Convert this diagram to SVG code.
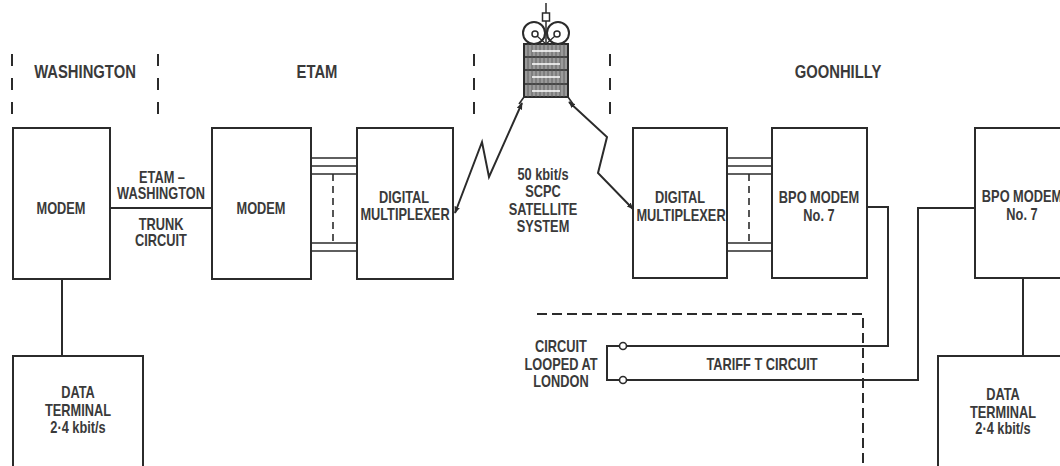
<svg xmlns="http://www.w3.org/2000/svg" width="1060" height="466" viewBox="0 0 1060 466">
  <style>
    .box { fill: #ffffff; stroke: #2b2b2b; stroke-width: 2; }
    .wire { fill: none; stroke: #2b2b2b; stroke-width: 2; }
    .thin { fill: none; stroke: #2b2b2b; stroke-width: 1.6; }
    .dash { fill: none; stroke: #2b2b2b; stroke-width: 2; stroke-dasharray: 10 5; }
    .divider { fill: none; stroke: #2b2b2b; stroke-width: 2; stroke-dasharray: 12 12; }
    text { font-family: "Liberation Sans", Arial, sans-serif; font-weight: bold; fill: #3a3a3a; text-anchor: middle; }
    .lbl { font-size: 16px; }
    .head { font-size: 18.5px; }
  </style>
  <defs>
    <marker id="arrow" viewBox="0 0 10 10" refX="9" refY="5" markerWidth="7" markerHeight="7" orient="auto-start-reverse" markerUnits="userSpaceOnUse">
      <path d="M0,1 L10,5 L0,9 Z" fill="#2b2b2b"/>
    </marker>
  </defs>

  <rect width="1060" height="466" fill="#ffffff"/>

  <!-- site boundaries and site names (condensed lettering: each text squeezed about its centre) -->
  <g id="sites">
    <path class="divider" d="M12,54 V118 M158,54 V118 M474,54 V118 M610,54 V118"/>
    <text class="head" transform="translate(85,0) scale(0.8,1)" y="78">WASHINGTON</text>
    <text class="head" transform="translate(317,0) scale(0.8,1)" y="78">ETAM</text>
    <text class="head" transform="translate(838,0) scale(0.8,1)" y="78">GOONHILLY</text>
  </g>

  <!-- satellite -->
  <g id="satellite" stroke="#2b2b2b" fill="none">
    <path d="M546,3 V13" stroke-width="1.5"/>
    <rect x="542.5" y="13" width="7" height="8" fill="#ffffff" stroke-width="1.5"/>
    <path d="M546,21 V44" stroke-width="1.5"/>
    <circle cx="534" cy="33" r="11" stroke-width="2"/>
    <circle cx="558" cy="33" r="11" stroke-width="2"/>
    <circle cx="535" cy="34" r="3" stroke-width="1.5"/>
    <circle cx="557" cy="34" r="3" stroke-width="1.5"/>
    <path d="M537,36 L546,44 M555,36 L546,44" stroke-width="1.2"/>
    <rect x="524" y="44" width="44" height="53" fill="#9a9a9a" stroke-width="2"/>
    <path d="M524,57 H568 M524,70 H568 M524,84 H568" stroke-width="1.6"/>
    <path d="M528,44 V97 M532,44 V97 M536,44 V97 M540,44 V97 M544,44 V97 M548,44 V97 M552,44 V97 M556,44 V97 M560,44 V97 M564,44 V97" stroke="#555555" stroke-width="0.8"/>
    <path d="M532,51 H560 M532,64 H560 M532,77 H560 M532,91 H560" stroke="#ffffff" stroke-width="1.5"/>
    <path d="M524,97 L519,104 M568,97 L573,104" stroke-width="1.6"/>
  </g>

  <!-- equipment -->
  <g id="wash-modem">
    <rect class="box" x="13" y="128" width="97" height="151"/>
    <text class="lbl" transform="translate(61,0) scale(0.8,1)" y="214">MODEM</text>
  </g>
  <g id="wash-terminal">
    <rect class="box" x="13" y="356" width="130" height="120"/>
    <text class="lbl" transform="translate(78,0) scale(0.8,1)" y="398">DATA</text>
    <text class="lbl" transform="translate(78,0) scale(0.8,1)" y="416">TERMINAL</text>
    <text class="lbl" transform="translate(78,0) scale(0.8,1)" y="433">2·4 kbit/s</text>
  </g>
  <g id="etam-modem">
    <rect class="box" x="212" y="128" width="99" height="151"/>
    <text class="lbl" transform="translate(261,0) scale(0.8,1)" y="214">MODEM</text>
  </g>
  <g id="etam-mux">
    <rect class="box" x="357" y="128" width="96" height="151"/>
    <text class="lbl" transform="translate(404,0) scale(0.8,1)" y="203">DIGITAL</text>
    <text class="lbl" transform="translate(405,0) scale(0.8,1)" y="220">MULTIPLEXER</text>
  </g>
  <g id="goon-mux">
    <rect class="box" x="633" y="128" width="94" height="150"/>
    <text class="lbl" transform="translate(680,0) scale(0.8,1)" y="203">DIGITAL</text>
    <text class="lbl" transform="translate(681,0) scale(0.8,1)" y="221">MULTIPLEXER</text>
  </g>
  <g id="goon-modem">
    <rect class="box" x="772" y="128" width="95" height="150"/>
    <text class="lbl" transform="translate(819,0) scale(0.8,1)" y="203">BPO MODEM</text>
    <text class="lbl" transform="translate(819,0) scale(0.8,1)" y="221">No. 7</text>
  </g>
  <g id="remote-modem">
    <rect class="box" x="975" y="128" width="100" height="150"/>
    <text class="lbl" transform="translate(1022,0) scale(0.8,1)" y="202">BPO MODEM</text>
    <text class="lbl" transform="translate(1022,0) scale(0.8,1)" y="220">No. 7</text>
  </g>
  <g id="remote-terminal">
    <rect class="box" x="938" y="356" width="130" height="120"/>
    <text class="lbl" transform="translate(1003,0) scale(0.8,1)" y="400">DATA</text>
    <text class="lbl" transform="translate(1003,0) scale(0.8,1)" y="418">TERMINAL</text>
    <text class="lbl" transform="translate(1003,0) scale(0.8,1)" y="434">2·4 kbit/s</text>
  </g>

  <!-- connectors -->
  <g id="connectors">
    <!-- trunk circuit -->
    <path class="wire" d="M110,208 H212"/>
    <text class="lbl" transform="translate(162,0) scale(0.8,1)" y="183">ETAM –</text>
    <text class="lbl" transform="translate(161,0) scale(0.8,1)" y="199">WASHINGTON</text>
    <text class="lbl" transform="translate(161,0) scale(0.8,1)" y="230">TRUNK</text>
    <text class="lbl" transform="translate(161,0) scale(0.8,1)" y="246">CIRCUIT</text>
    <!-- modem to terminal drops -->
    <path class="wire" d="M62,279 V356"/>
    <path class="wire" d="M1023,278 V356"/>
    <!-- multi-channel links -->
    <path class="thin" d="M311,158 H357 M311,166 H357 M311,174 H357 M311,243 H357 M311,251 H357"/>
    <path class="thin" d="M333,174 V243" stroke-dasharray="7 5"/>
    <path class="thin" d="M727,158 H772 M727,166 H772 M727,174 H772 M727,243 H772 M727,251 H772"/>
    <path class="thin" d="M749,174 V243" stroke-dasharray="7 5"/>
    <!-- satellite radio paths -->
    <path class="wire" d="M455,213 L482,142 L489,177 L522,103" marker-start="url(#arrow)" marker-end="url(#arrow)"/>
    <path class="wire" d="M569,102 L607,137 L598,173 L633,209" marker-start="url(#arrow)" marker-end="url(#arrow)"/>
    <text class="lbl" transform="translate(543,0) scale(0.8,1)" y="180">50 kbit/s</text>
    <text class="lbl" transform="translate(543,0) scale(0.8,1)" y="197">SCPC</text>
    <text class="lbl" transform="translate(543,0) scale(0.8,1)" y="215">SATELLITE</text>
    <text class="lbl" transform="translate(543,0) scale(0.8,1)" y="232">SYSTEM</text>
    <!-- tariff T circuit looped at London -->
    <path class="wire" d="M867,207 H888 V346 H626"/>
    <path class="wire" d="M975,208 H918 V380 H626"/>
    <path class="wire" d="M620,346 H607 V380 H620"/>
    <circle cx="623" cy="346" r="3.5" fill="#ffffff" stroke="#2b2b2b" stroke-width="1.6"/>
    <circle cx="623" cy="380" r="3.5" fill="#ffffff" stroke="#2b2b2b" stroke-width="1.6"/>
    <text class="lbl" transform="translate(561,0) scale(0.8,1)" y="352">CIRCUIT</text>
    <text class="lbl" transform="translate(561,0) scale(0.8,1)" y="370">LOOPED AT</text>
    <text class="lbl" transform="translate(561,0) scale(0.8,1)" y="387">LONDON</text>
    <text class="lbl" transform="translate(762,0) scale(0.8,1)" y="370">TARIFF T CIRCUIT</text>
    <!-- London boundary -->
    <path class="dash" d="M537,314 H863 V466"/>
  </g>
</svg>
